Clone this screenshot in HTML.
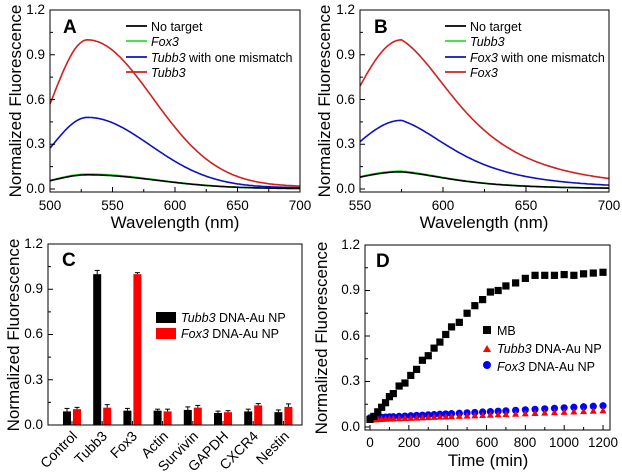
<!DOCTYPE html>
<html><head><meta charset="utf-8"><style>
html,body{margin:0;padding:0;background:#fff}
svg{display:block}
text{font-family:"Liberation Sans",Arial,sans-serif;fill:#000}
.t{font-size:13.5px}
.ti{font-size:17px}
.lg{font-size:12.5px}
.pl{font-size:19px;font-weight:bold}
.cl{font-size:14px}
</style></head><body>
<svg id="s" width="622" height="474" viewBox="0 0 622 474" xmlns="http://www.w3.org/2000/svg">
<g id="curves" fill="none" stroke-width="1.6"></g>
<g id="marks"></g>
<g fill="none" stroke="#000" stroke-width="1">
<rect x="50" y="10" width="250" height="182"/>
<rect x="360" y="10" width="249" height="182"/>
<rect x="48" y="244" width="254" height="181"/>
<rect x="365" y="245" width="245" height="185"/>
</g>
<g id="ticks" stroke="#000" stroke-width="1"></g>
<g class="t" text-anchor="end">
<text x="45" y="14">1.2</text><text x="45" y="59">0.9</text><text x="45" y="104">0.6</text><text x="45" y="148">0.3</text><text x="45" y="193">0.0</text>
<text x="355" y="14">1.2</text><text x="355" y="59">0.9</text><text x="355" y="104">0.6</text><text x="355" y="148">0.3</text><text x="355" y="193">0.0</text>
<text x="43" y="248">1.2</text><text x="43" y="293">0.9</text><text x="43" y="338">0.6</text><text x="43" y="384">0.3</text><text x="43" y="429">0.0</text>
<text x="360" y="249">1.2</text><text x="360" y="294">0.9</text><text x="360" y="340">0.6</text><text x="360" y="385">0.3</text><text x="360" y="431">0.0</text>
</g>
<g class="t" text-anchor="middle">
<text x="50" y="210">500</text><text x="112.5" y="210">550</text><text x="175" y="210">600</text><text x="237.5" y="210">650</text><text x="300" y="210">700</text>
<text x="360" y="210">550</text><text x="443" y="210">600</text><text x="526" y="210">650</text><text x="609" y="210">700</text>
<text x="370" y="447">0</text><text x="409" y="447">200</text><text x="448" y="447">400</text><text x="487" y="447">600</text><text x="525" y="447">800</text><text x="564" y="447">1000</text><text x="603" y="447">1200</text>
</g>
<g class="ti" text-anchor="middle">
<text x="175" y="228">Wavelength (nm)</text>
<text x="484" y="228">Wavelength (nm)</text>
<text x="488" y="466">Time (min)</text>
<text transform="translate(21,101) rotate(-90)">Normalized Fluorescence</text>
<text transform="translate(330,101) rotate(-90)">Normalized Fluorescence</text>
<text transform="translate(19,335) rotate(-90)">Normalized Fluorescence</text>
<text transform="translate(327,338) rotate(-90)">Normalized Fluorescence</text>
</g>
<text class="pl" x="63" y="33">A</text>
<text class="pl" x="374" y="33">B</text>
<text class="pl" x="62" y="266">C</text>
<text class="pl" x="376" y="267">D</text>
<g stroke-width="1.8">
<line x1="126" y1="26" x2="147" y2="26" stroke="#000"/>
<line x1="126" y1="41" x2="147" y2="41" stroke="#2ee02e"/>
<line x1="126" y1="57" x2="147" y2="57" stroke="#1010c0"/>
<line x1="126" y1="72" x2="147" y2="72" stroke="#d02020"/>
<line x1="445" y1="26" x2="466" y2="26" stroke="#000"/>
<line x1="445" y1="41" x2="466" y2="41" stroke="#2ee02e"/>
<line x1="445" y1="57" x2="466" y2="57" stroke="#1010c0"/>
<line x1="445" y1="72" x2="466" y2="72" stroke="#d02020"/>
</g>
<g class="lg">
<text x="151" y="31">No target</text>
<text x="151" y="46" font-style="italic">Fox3</text>
<text x="151" y="62"><tspan font-style="italic">Tubb3</tspan> with one mismatch</text>
<text x="151" y="77" font-style="italic">Tubb3</text>
<text x="470" y="31">No target</text>
<text x="470" y="46" font-style="italic">Tubb3</text>
<text x="470" y="62"><tspan font-style="italic">Fox3</tspan> with one mismatch</text>
<text x="470" y="77" font-style="italic">Fox3</text>
</g>
<rect x="156" y="312" width="20" height="11" fill="#000"/>
<rect x="156" y="328" width="20" height="11" fill="#f00"/>
<g class="lg">
<text x="181" y="322"><tspan font-style="italic">Tubb3</tspan> DNA-Au NP</text>
<text x="181" y="338"><tspan font-style="italic">Fox3</tspan> DNA-Au NP</text>
</g>
<rect x="483" y="326" width="8" height="8" fill="#000"/>
<polygon points="487,345 491,352 483,352" fill="#f00"/>
<circle cx="487" cy="365" r="4" fill="#00f"/>
<g class="lg">
<text x="497" y="335">MB</text>
<text x="497" y="353"><tspan font-style="italic">Tubb3</tspan> DNA-Au NP</text>
<text x="497" y="371"><tspan font-style="italic">Fox3</tspan> DNA-Au NP</text>
</g>
<g class="cl">
<text text-anchor="end" transform="translate(78,437) rotate(-45)">Control</text>
<text text-anchor="end" transform="translate(108,437) rotate(-45)">Tubb3</text>
<text text-anchor="end" transform="translate(138,437) rotate(-45)">Fox3</text>
<text text-anchor="end" transform="translate(169,437) rotate(-45)">Actin</text>
<text text-anchor="end" transform="translate(199,437) rotate(-45)">Survivin</text>
<text text-anchor="end" transform="translate(229,437) rotate(-45)">GAPDH</text>
<text text-anchor="end" transform="translate(259,437) rotate(-45)">CXCR4</text>
<text text-anchor="end" transform="translate(290,437) rotate(-45)">Nestin</text>
</g>
</svg>
<script>
var NS="http://www.w3.org/2000/svg";
function el(p,n,a){var e=document.createElementNS(NS,n);for(var k in a)e.setAttribute(k,a[k]);p.appendChild(e);return e;}
var C=document.getElementById('curves'),M=document.getElementById('marks'),T=document.getElementById('ticks');
function curve(x0,x1,px0,px1,py0,ppu,f,col){var d="";for(var x=x0;x<=x1;x+=1){var X=px0+(x-x0)*(px1-px0)/(x1-x0),Y=py0-f(x)*ppu;d+=(d?"L":"M")+X.toFixed(1)+" "+Y.toFixed(1);}el(C,'path',{d:d,stroke:col});}
function g(pk,c,sl,sr,base){return function(x){var s=x<c?sl:sr;return base+(pk-base)*Math.exp(-(x-c)*(x-c)/(2*s*s));};}
var ppu=179/1.2;
curve(500,700,50,300,189,ppu,g(1.0,530,28,52,0.015),'#d02020');
curve(500,700,50,300,189,ppu,g(0.48,530,28,50,0.008),'#1010c0');
curve(500,700,50,300,189,ppu,g(0.1,530,28,55,0.003),'#2ee02e');
curve(500,700,50,300,189,ppu,g(0.095,530,28,55,0.003),'#000');
function gb(pk,c,sl,sr,tl){return function(x){if(x<c)return pk*Math.exp(-(x-c)*(x-c)/(2*sl*sl));var u=(x-c)/sr;return pk/(1+u*u)*Math.exp(-(x-c)/tl);};}
curve(550,700,360,609,189,ppu,gb(1.0,575,29,55,150),'#d02020');
curve(550,700,360,609,189,ppu,gb(0.46,575,29,52,130),'#1010c0');
curve(550,700,360,609,189,ppu,gb(0.12,575,29,50,120),'#2ee02e');
curve(550,700,360,609,189,ppu,gb(0.115,575,29,50,120),'#000');
function yt(x0,y0,ppu2){for(var v=0;v<=1.2001;v+=0.15){var y=y0-v*ppu2;var L=(Math.round(v/0.15)%2==0)?5:3;el(T,'line',{x1:x0,y1:y,x2:x0+L,y2:y});}}
yt(50,189,ppu);yt(360,189,ppu);yt(48,425,181/1.2);yt(365,427,182/1.2);
for(var i=0;i<=8;i++){var x=50+i*31.25,L=i%2?3:5;el(T,'line',{x1:x,y1:192,x2:x,y2:192-L});}
for(var i=0;i<=6;i++){var x=360+i*41.5,L=i%2?3:5;el(T,'line',{x1:x,y1:192,x2:x,y2:192-L});}
for(var i=0;i<=12;i++){var x=370+i*19.42,L=i%2?3:5;el(T,'line',{x1:x,y1:430,x2:x,y2:430-L});}
var bk=[0.09,1.0,0.095,0.095,0.1,0.08,0.09,0.085],rd=[0.105,0.115,1.0,0.09,0.115,0.085,0.13,0.12],
eb=[0.02,0.025,0.015,0.01,0.02,0.012,0.015,0.015],er=[0.012,0.02,0.01,0.015,0.015,0.01,0.012,0.02];
var cp=181/1.2;
for(var i=0;i<8;i++){var cx=72+i*30.2;
 [[bk[i],eb[i],'#000',cx-9],[rd[i],er[i],'#f00',cx+1]].forEach(function(b){var h=b[0]*cp;el(M,'rect',{x:b[3],y:425-h,width:8,height:h,fill:b[2]});
 var yt2=425-(b[0]+b[1])*cp;el(M,'line',{x1:b[3]+4,y1:425-h,x2:b[3]+4,y2:yt2,stroke:'#000'});el(M,'line',{x1:b[3]+1.5,y1:yt2,x2:b[3]+6.5,y2:yt2,stroke:'#000'});});
 el(T,'line',{x1:cx,y1:425,x2:cx,y2:421});}
function dx(t){return 370+t*233/1200;}function dy(v){return 427-v*182/1.2;}
var mb=[[0,.05],[20,.07],[40,.1],[60,.13],[80,.16],[100,.2],[120,.22],[150,.27],[180,.29],[210,.34],[240,.38],[270,.44],[300,.47],[330,.52],[360,.56],[390,.61],[420,.66],[460,.69],[500,.75],[540,.8],[580,.84],[620,.89],[660,.9],[700,.93],[750,.95],[800,.98],[850,1],[900,1],[950,1],[1000,1.005],[1050,1],[1100,1.01],[1150,1.015],[1200,1.02]];
var ts=[0,10,20,30,40,60,80,100,120,150,180,210,240,270,300,330,360,390,420,460,500,540,580,620,660,700,750,800,850,900,950,1000,1050,1100,1150,1200];
ts.forEach(function(t){var v=0.06+0.08*t/1200;el(M,'circle',{cx:dx(t),cy:dy(v),r:3.6,fill:'#00f'});});
ts.forEach(function(t){var v=0.05+0.06*t/1200,X=dx(t),Y=dy(v);el(M,'polygon',{points:X+","+(Y-3.5)+" "+(X+3.5)+","+(Y+3)+" "+(X-3.5)+","+(Y+3),fill:'#f00'});});
mb.forEach(function(p){el(M,'rect',{x:dx(p[0])-3.6,y:dy(p[1])-3.6,width:7.2,height:7.2,fill:'#000'});});
</script>
</body></html>
